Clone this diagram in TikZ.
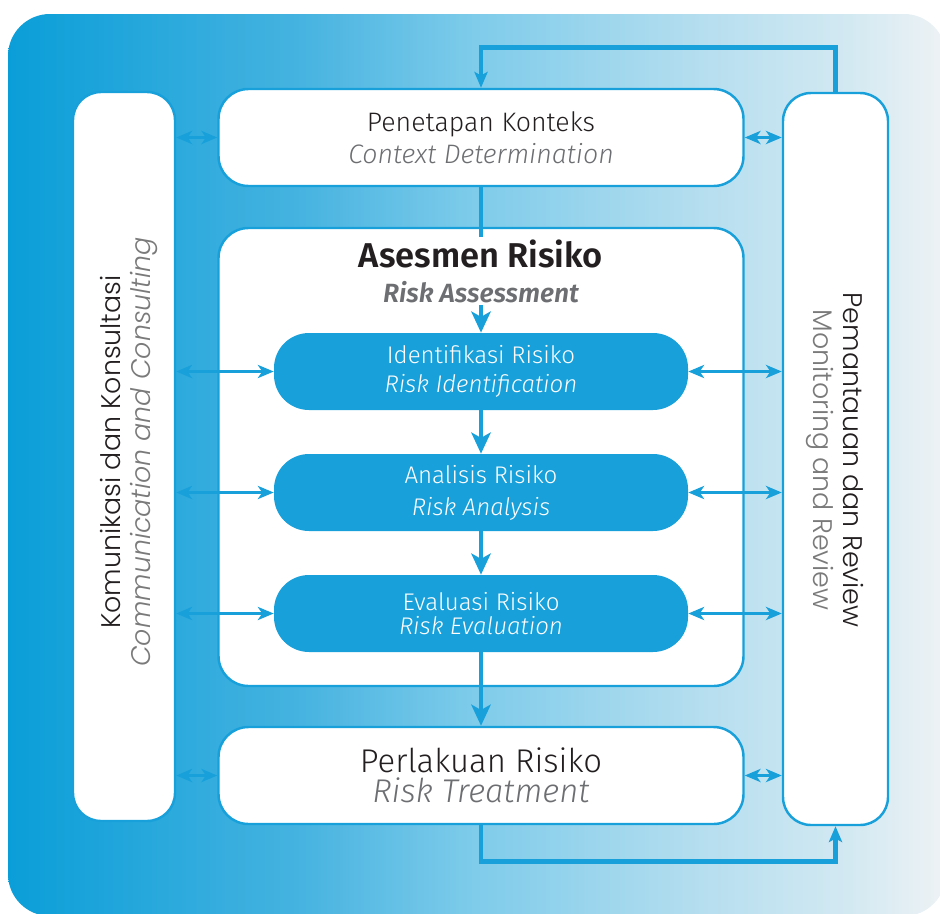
\documentclass[tikz,border=0pt]{standalone}
\usepackage{fontspec}
\IfFontExistsTF{FiraSans-Light.otf}{%
  \setmainfont{FiraSans}[Extension=.otf, UprightFont=*-Light, ItalicFont=*-LightItalic,
    BoldFont=*-SemiBold, BoldItalicFont=*-SemiBoldItalic]}{%
  \IfFontExistsTF{Fira Sans Light}{%
    \setmainfont{Fira Sans Light}[BoldFont=Fira Sans SemiBold, BoldItalicFont=Fira Sans SemiBold Italic]}{%
    \setmainfont{Fira Sans}}}
\IfFontExistsTF{Poppins Light}{\newfontfamily\sidefont{Poppins Light}}{\newfontfamily\sidefont{Poppins}}
\usepackage{tikz}
\usetikzlibrary{positioning, arrows.meta, calc}

\definecolor{riskblue}{HTML}{18A0DB}
\definecolor{textdark}{HTML}{231F20}
\definecolor{textgray}{HTML}{6D6E71}
\definecolor{sidegray}{HTML}{7A7A7A}
\definecolor{bgA}{HTML}{0A9ED8}
\definecolor{bgB}{HTML}{46B3E0}
\definecolor{bgC}{HTML}{7DCBEA}
\definecolor{bgD}{HTML}{B5DEEF}
\definecolor{bgE}{HTML}{D3E9F2}
\definecolor{bgF}{HTML}{EEF2F5}
\pgfdeclarehorizontalshading{bgshade}{100bp}{color(0bp)=(bgA); color(25bp)=(bgA); color(40.6bp)=(bgB);
  color(49.6bp)=(bgC); color(61.9bp)=(bgD); color(69.9bp)=(bgE); color(75bp)=(bgF); color(100bp)=(bgF)}

\newcommand{\pxu}{0.02cm}

\tikzset{
  whitebox/.style={draw=riskblue, line width=1.4pt, fill=white, rounded corners=0.6cm,
    text=textdark, align=center},
  stepbox/.style={fill=riskblue, rounded corners=0.7cm, text=white, align=center,
    minimum width=414*\pxu, minimum height=77*\pxu, font=\fontsize{13.7}{16.4}\selectfont},
  sidebox/.style={draw=riskblue, line width=1.4pt, fill=white, rounded corners=0.56cm},
  sidetext/.style={align=center, text=textdark, font=\sidefont\fontsize{15.3}{17}\selectfont},
  mainflow/.style={riskblue, line width=2.2pt, -{Stealth[length=12pt, width=11pt, inset=3pt]}},
  feedback/.style={riskblue, line width=2.8pt, -{Stealth[length=9pt, width=7.5pt, inset=2pt]}},
  twoway/.style={riskblue, line width=1.4pt,
    {Stealth[length=9pt, width=7.5pt, inset=2.5pt]}-{Stealth[length=9pt, width=7.5pt, inset=2.5pt]}}
}

\begin{document}
\begin{tikzpicture}[x=0.02cm, y=-0.02cm]
    \useasboundingbox (0,0) rectangle (940,913);
    \clip (0,0) rectangle (940,913);

    % Background
    \shade[shading=bgshade, rounded corners=0.84cm] (8,14) rectangle (946,916);

    % Side columns
    \node[sidebox, minimum width=102*\pxu, minimum height=729*\pxu] (komu) at (124,456.5) {};
    \node[sidebox, minimum width=105*\pxu, minimum height=732*\pxu] (mon) at (835.5,459) {};

    % Main boxes
    \node[whitebox, minimum width=525*\pxu, minimum height=97*\pxu,
        font=\fontsize{15.2}{18.1}\selectfont] (ctx) at (481,137.5)
        {Penetapan Konteks\\{\itshape\color{textgray}Context Determination}};
    \node[whitebox, minimum width=525*\pxu, minimum height=458*\pxu] (asm) at (481,457) {};
    \node[whitebox, minimum width=525*\pxu, minimum height=97*\pxu,
        font=\fontsize{18.7}{16.9}\selectfont] (treat) at (481,775.5)
        {Perlakuan Risiko\\{\itshape\color{textgray}Risk Treatment}};

    % Assessment steps
    \node[stepbox] (ident) at (481,371.5) {Identifikasi Risiko\\{\itshape Risk Identification}};
    \node[stepbox, font=\fontsize{13.7}{18.1}\selectfont] (anal) at (481,492.5) {Analisis Risiko\\{\itshape Risk Analysis}};
    \node[stepbox, font=\fontsize{13.7}{13.6}\selectfont] (eval) at (481,613.5) {Evaluasi Risiko\\{\itshape Risk Evaluation}};

    % Flow down
    \draw[mainflow] (ctx.south) -- (ident.north);
    \draw[mainflow] (ident.south) -- (anal.north);
    \draw[mainflow] (anal.south) -- (eval.north);
    \draw[mainflow] (eval.south) -- (treat.north);

    % Title (covers the line)
    \node[fill=white, inner sep=0pt, minimum width=260*\pxu, minimum height=68*\pxu, align=center,
        font=\fontsize{19.6}{19.8}\selectfont\bfseries, text=textdark] (asmtitle) at (481,271)
        {Asesmen Risiko\\{\fontsize{15}{19.8}\selectfont\itshape\color{textgray}Risk Assessment}};

    % Feedback loops
    \draw[feedback] (mon.north) -- ++(0,-44) -| (ctx.north);
    \draw[feedback] (treat.south) -- ++(0,36) -| (mon.south);

    % Two-way links
    \foreach \n in {ctx, ident, anal, eval, treat} {
        \draw[twoway] (\n.west -| komu.east) -- (\n.west);
        \draw[twoway] (\n.east) -- (\n.east -| mon.west);
    }

    % Side labels
    \node[sidetext, rotate=90] (komulbl) at (129,452)
        {Komunikasi dan Konsultasi\\{\itshape\color{sidegray}Communication and Consulting}};
    \node[sidetext, rotate=-90] (monlbl) at (835,460)
        {Pemantauan dan Review\\{\color{sidegray}Monitoring and Review}};
\end{tikzpicture}
\end{document}
